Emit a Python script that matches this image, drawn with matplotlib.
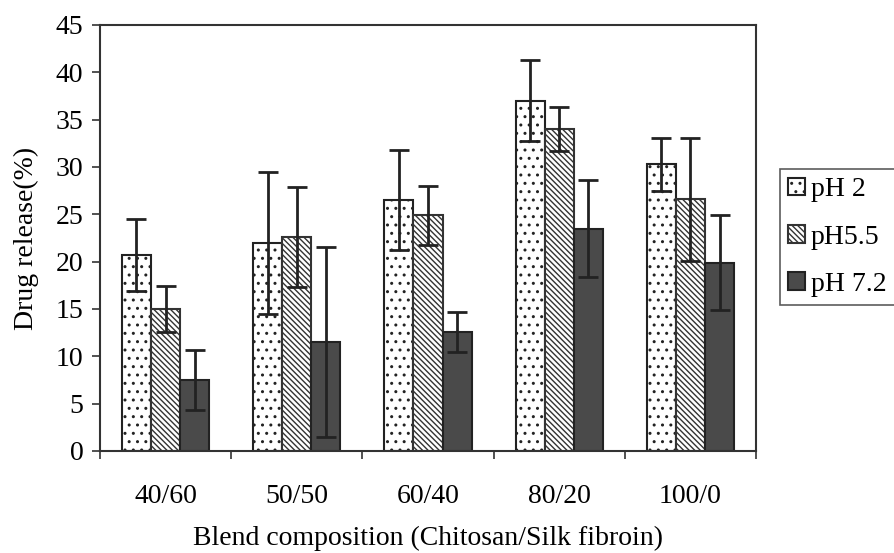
import matplotlib
matplotlib.use("Agg")
import matplotlib.pyplot as plt
import numpy as np

plt.rcParams['font.family'] = ['Liberation Serif', 'DejaVu Serif']
plt.rcParams['hatch.linewidth'] = 1.0

categories = ["40/60", "50/50", "60/40", "80/20", "100/0"]
series_names = ["pH 2", "pH5.5", "pH 7.2"]
ph2 = [20.7, 22.0, 26.5, 37.0, 30.3]
ph2_err = [3.8, 7.5, 5.3, 4.3, 2.8]
ph55 = [15.0, 22.6, 24.9, 34.0, 26.6]
ph55_err = [2.4, 5.3, 3.1, 2.3, 6.5]
ph72 = [7.5, 11.5, 12.6, 23.5, 19.9]
ph72_err = [3.2, 10.0, 2.1, 5.1, 5.0]
yticks = list(range(0, 50, 5))

FS = 20
fig = plt.figure(figsize=(8.94, 5.53), dpi=100)
ax = fig.add_axes([100 / 894, 1 - 451 / 553, 656 / 894, 426 / 553])

x = np.arange(len(categories))
w = 0.222
styles = [
    dict(facecolor='white', hatch='..', edgecolor='#222222'),
    dict(facecolor='white', hatch='\\\\\\\\\\\\', edgecolor='#333333'),
    dict(facecolor='#4a4a4a', hatch=None, edgecolor='#222222'),
]
data = [(ph2, ph2_err), (ph55, ph55_err), (ph72, ph72_err)]
handles = []
for i, ((vals, errs), st, name) in enumerate(zip(data, styles, series_names)):
    b = ax.bar(x + (i - 1) * w, vals, w, yerr=errs, label=name,
               facecolor=st['facecolor'], edgecolor=st['edgecolor'],
               hatch=st['hatch'], linewidth=1.5,
               error_kw=dict(ecolor='#222222', elinewidth=2.0, capsize=7, capthick=2.0),
               zorder=2)
    handles.append(b)

ax.set_xlim(-0.5, len(categories) - 0.5)
ax.set_ylim(0, 45)
ax.set_yticks(yticks)
ax.set_yticklabels([str(t) for t in yticks], fontsize=FS)
ax.set_xticks(x)
ax.set_xticklabels(categories, fontsize=FS)
ax.tick_params(axis='x', length=0, pad=24)
ax.set_xticks(np.arange(-0.5, len(categories), 1.0), minor=True)
ax.tick_params(axis='x', which='minor', length=6, width=1.2, direction='out', color='#333333')
ax.tick_params(axis='y', length=6, width=1.2, direction='out', color='#333333', pad=6)
for s in ax.spines.values():
    s.set_linewidth(1.5)
    s.set_color('#333333')

ax.set_xlabel("Blend composition (Chitosan/Silk fibroin)", fontsize=FS, labelpad=12)
ax.set_ylabel("Drug release(%)", fontsize=FS, labelpad=12)

leg = fig.legend(handles=handles, labels=series_names, loc='upper left',
                 bbox_to_anchor=(780 / 894, 1 - 169 / 553), fontsize=FS,
                 frameon=True, fancybox=False, edgecolor='#333333',
                 handlelength=0.6, handleheight=0.6, handletextpad=0.2,
                 borderpad=0.3, labelspacing=0.8, borderaxespad=0)
leg.get_frame().set_linewidth(1.2)

fig.savefig("out.png", dpi=100)
